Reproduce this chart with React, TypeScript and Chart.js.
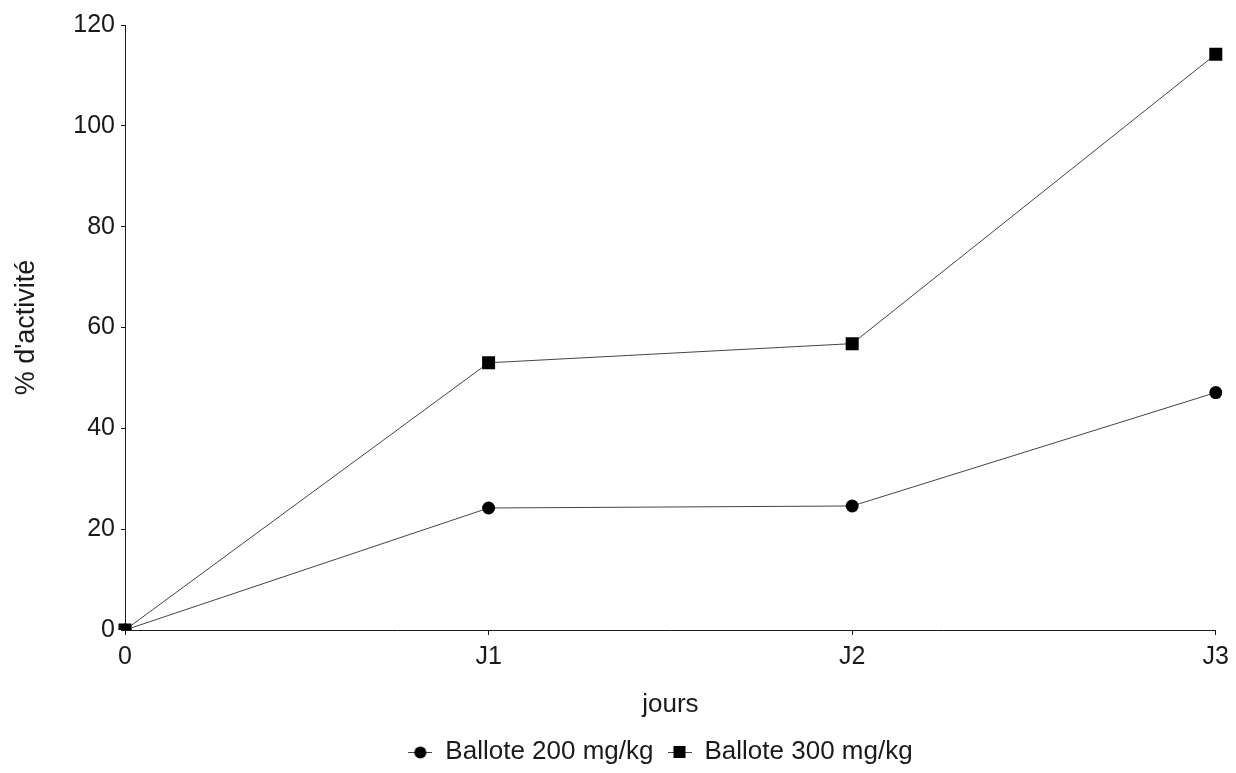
import React, { useEffect, useRef } from "react";
import { Chart, registerables } from "chart.js";

Chart.register(...registerables);

const categories = ["0", "J1", "J2", "J3"];
const ballote200 = [0, 24.2, 24.6, 47.1];
const ballote300 = [0, 53.0, 56.8, 114.2];
const yTicks = [0, 20, 40, 60, 80, 100, 120];

const FONT = "'Liberation Sans', Arial, sans-serif";
const INK = "#1a1a1a";
const LINE = "#444";

function makeLegendMarker(kind: "circle" | "rect"): HTMLCanvasElement {
  const c = document.createElement("canvas");
  c.width = 24;
  c.height = 16;
  const ctx = c.getContext("2d")!;
  ctx.strokeStyle = LINE;
  ctx.lineWidth = 1;
  ctx.beginPath();
  ctx.moveTo(0, 8.5);
  ctx.lineTo(24, 8.5);
  ctx.stroke();
  ctx.fillStyle = "#000";
  if (kind === "circle") {
    ctx.beginPath();
    ctx.arc(12, 8.5, 6, 0, Math.PI * 2);
    ctx.fill();
  } else {
    ctx.fillRect(6, 2, 12, 12);
  }
  return c;
}

const legendShift = {
  id: "legendShift",
  afterLayout(chart: any) {
    const lg = chart.legend;
    if (lg) {
      lg.left += 50;
      lg.right += 50;
      lg.top += 2;
      lg.bottom += 2;
    }
  },
};

export default function App() {
  const ref = useRef<HTMLCanvasElement | null>(null);

  useEffect(() => {
    if (!ref.current) return;
    const circleMarker = makeLegendMarker("circle");
    const rectMarker = makeLegendMarker("rect");

    const chart = new Chart(ref.current, {
      type: "line",
      data: {
        labels: categories,
        datasets: [
          {
            label: "Ballote 200 mg/kg",
            data: ballote200,
            borderColor: LINE,
            borderWidth: 1,
            pointStyle: "circle",
            pointRadius: 6.5,
            pointBorderWidth: 0,
            pointBackgroundColor: "#000",
            tension: 0,
          },
          {
            label: "Ballote 300 mg/kg",
            data: ballote300,
            borderColor: LINE,
            borderWidth: 1,
            pointStyle: "rect",
            pointRadius: 9.2,
            pointBorderWidth: 0,
            pointBackgroundColor: "#000",
            tension: 0,
          },
        ],
      },
      plugins: [legendShift],
      options: {
        responsive: false,
        animation: false,
        layout: { padding: { top: 25, right: 15, left: 0, bottom: 0 } },
        plugins: {
          tooltip: { enabled: false },
          legend: {
            position: "bottom",
            labels: {
              usePointStyle: true,
              pointStyleWidth: 24,
              color: INK,
              font: { family: FONT, size: 26 },
              padding: 14,
              generateLabels: (chart: any) =>
                chart.data.datasets.map((ds: any, i: number) => ({
                  text: ds.label,
                  pointStyle: i === 0 ? circleMarker : rectMarker,
                  fillStyle: "#000",
                  strokeStyle: "#000",
                  lineWidth: 0,
                  hidden: false,
                  datasetIndex: i,
                  fontColor: INK,
                })),
            },
          },
        },
        scales: {
          x: {
            type: "category",
            offset: false,
            grid: { display: true, drawOnChartArea: false, color: INK, tickLength: 5 },
            border: { color: INK, width: 1 },
            ticks: { color: INK, font: { family: FONT, size: 25 }, padding: 7, maxRotation: 0 },
            title: {
              display: true,
              text: "jours",
              color: INK,
              font: { family: FONT, size: 26 },
              padding: { top: 14, bottom: 3 },
            },
            afterFit: (scale: any) => {
              scale.height = 93;
            },
          },
          y: {
            min: 0,
            max: 120,
            afterBuildTicks: (scale: any) => {
              scale.ticks = yTicks.map((v) => ({ value: v }));
            },
            grid: { display: true, drawOnChartArea: false, color: INK, tickLength: 4 },
            border: { color: INK, width: 1 },
            ticks: { color: INK, font: { family: FONT, size: 25 }, padding: 6 },
            title: {
              display: true,
              text: "% d'activité",
              color: INK,
              font: { family: FONT, size: 27 },
              padding: { top: 10, bottom: 0 },
            },
            afterFit: (scale: any) => {
              scale.width = 125;
            },
          },
        },
      },
    });
    return () => chart.destroy();
  }, []);

  return (
    <div style={{ position: "fixed", left: 0, top: 0, width: 1236, height: 773, background: "#fff" }}>
      <canvas ref={ref} width={1236} height={773} />
    </div>
  );
}
